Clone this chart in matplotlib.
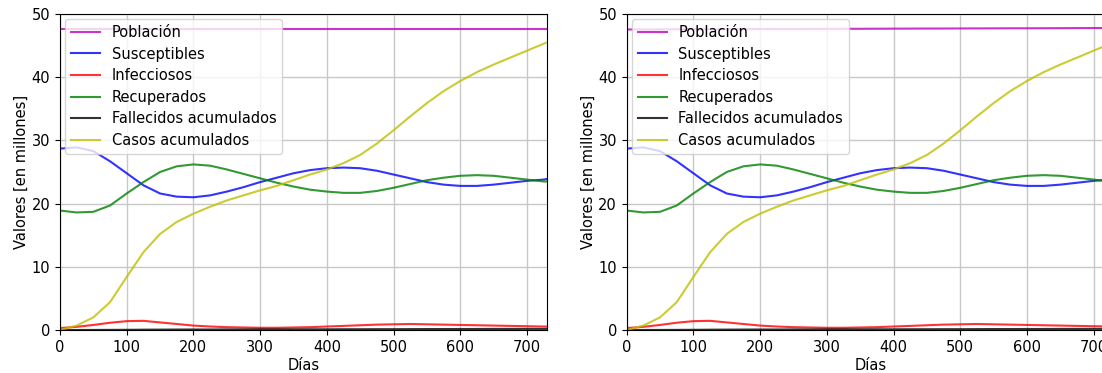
import matplotlib
matplotlib.use("Agg")
import matplotlib.pyplot as plt

dias = [0, 25, 50, 75, 100, 125, 150, 175, 200, 225, 250, 275, 300, 325, 350,
        375, 400, 425, 450, 475, 500, 525, 550, 575, 600, 625, 650, 675, 700, 725, 730]

poblacion_a = [47.7] * 31
poblacion_b = [47.55, 47.56, 47.57, 47.58, 47.58, 47.59, 47.60, 47.61, 47.62, 47.62, 47.63,
               47.64, 47.65, 47.66, 47.66, 47.67, 47.68, 47.69, 47.70, 47.70, 47.71, 47.72,
               47.73, 47.74, 47.74, 47.75, 47.76, 47.77, 47.78, 47.78, 47.79]

susceptibles = [28.7, 28.9, 28.3, 26.7, 24.8, 22.9, 21.6, 21.1, 21.0, 21.3, 21.9, 22.6,
                23.4, 24.1, 24.8, 25.3, 25.6, 25.7, 25.6, 25.2, 24.6, 24.0, 23.4, 23.0,
                22.8, 22.8, 23.0, 23.3, 23.6, 23.8, 23.9]

infecciosos = [0.3, 0.5, 0.8, 1.15, 1.4, 1.45, 1.2, 0.95, 0.7, 0.55, 0.45, 0.4, 0.35,
               0.35, 0.4, 0.45, 0.55, 0.65, 0.75, 0.85, 0.9, 0.95, 0.9, 0.85, 0.8, 0.75,
               0.7, 0.65, 0.6, 0.55, 0.55]

recuperados = [18.9, 18.6, 18.7, 19.7, 21.6, 23.4, 25.0, 25.9, 26.2, 26.0, 25.4, 24.7,
               24.0, 23.3, 22.7, 22.2, 21.9, 21.7, 21.7, 22.0, 22.5, 23.1, 23.7, 24.1,
               24.4, 24.5, 24.4, 24.1, 23.8, 23.5, 23.5]

fallecidos = [0.0, 0.0, 0.01, 0.02, 0.03, 0.05, 0.06, 0.07, 0.08, 0.08, 0.09, 0.09, 0.1,
              0.1, 0.1, 0.11, 0.11, 0.12, 0.12, 0.13, 0.13, 0.14, 0.15, 0.15, 0.16, 0.16,
              0.17, 0.17, 0.18, 0.18, 0.18]

casos = [0.0, 0.7, 2.0, 4.4, 8.4, 12.3, 15.2, 17.1, 18.4, 19.5, 20.5, 21.3, 22.1, 22.8,
         23.7, 24.6, 25.4, 26.4, 27.7, 29.5, 31.6, 33.8, 35.9, 37.8, 39.4, 40.8, 42.0,
         43.1, 44.2, 45.3, 45.5]

labels = ["Población", "Susceptibles", "Infecciosos", "Recuperados",
          "Fallecidos acumulados", "Casos acumulados"]
colors = ["m", "b", "r", "g", "k", "y"]

FS = 10.5
plt.rcParams["font.size"] = FS

fig = plt.figure(figsize=(11.02, 3.73), dpi=100)
W, H = 1102, 373
positions = [
    [60 / W, (H - 330) / H, 487 / W, 316 / H],
    [626.7 / W, (H - 330) / H, 487 / W, 316 / H],
]
pops = [poblacion_a, poblacion_b]

for pos, pop in zip(positions, pops):
    ax = fig.add_axes(pos)
    series = [pop, susceptibles, infecciosos, recuperados, fallecidos, casos]
    for s, lab, c in zip(series, labels, colors):
        ax.plot(dias, s, color=c, label=lab, lw=1.5, alpha=0.8)
    ax.set_xlim(0, 730)
    ax.set_ylim(0, 50)
    ax.set_xticks([0, 100, 200, 300, 400, 500, 600, 700])
    ax.set_yticks([0, 10, 20, 30, 40, 50])
    ax.grid(True, color="#c8c8c8", lw=1.0)
    ax.set_xlabel("Días", fontsize=FS, labelpad=2)
    ax.set_ylabel("Valores [en millones]", fontsize=FS, labelpad=2)
    ax.tick_params(labelsize=FS, length=3.5)
    ax.legend(loc="upper left", fontsize=FS, borderaxespad=0.35, labelspacing=0.45)

fig.savefig("out.png", dpi=100)
